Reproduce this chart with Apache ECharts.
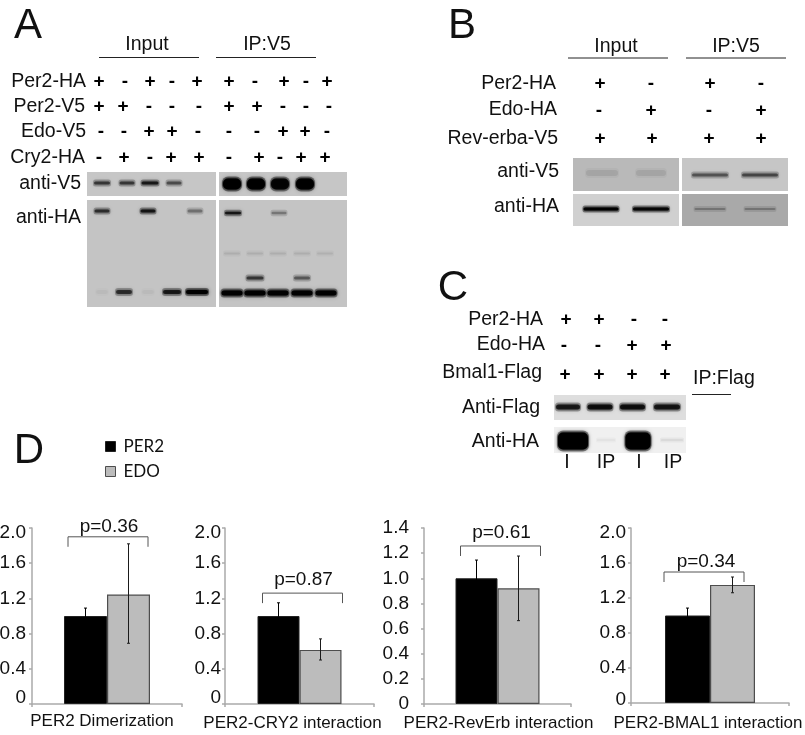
<!DOCTYPE html>
<html><head><meta charset="utf-8">
<style>html,body{margin:0;padding:0;background:#fff}#c{width:805px;height:735px}</style>
<script src="https://cdn.jsdelivr.net/npm/echarts@6/dist/echarts.min.js"></script>
</head><body><div id="c"></div>
<script>
// ---------- DATA: bar charts ----------
const chartNames = ['PER2 Dimerization','PER2-CRY2 interaction','PER2-RevErb interaction','PER2-BMAL1 interaction'];
const per2Means = [1.0, 1.0, 1.0, 1.0];
const edoMeans  = [1.245, 0.615, 0.92, 1.35];
const per2ErrLow  = [0.91, 0.85, 0.855, 0.915];
const per2ErrHigh = [1.09, 1.15, 1.145, 1.085];
const edoErrLow   = [0.69, 0.50, 0.663, 1.26];
const edoErrHigh  = [1.82, 0.74, 1.177, 1.44];
const pValues = ['p=0.36','p=0.87','p=0.61','p=0.34'];
const bracketLevels = [1.90, 1.26, 1.257, 1.497];
const axisMax = [2.0, 2.0, 1.4, 2.0];
const axisStep = [0.4, 0.4, 0.2, 0.4];
// ---------- DATA: treatment tables ----------
const aRowNames = ['Per2-HA','Per2-V5','Edo-V5','Cry2-HA'];
const aPer2HA = ['+','-','+','-','+','+','-','+','-','+'];
const aPer2V5 = ['+','+','-','-','-','+','+','-','-','-'];
const aEdoV5  = ['-','-','+','+','-','-','-','+','+','-'];
const aCry2HA = ['-','+','-','+','+','-','+','-','+','+'];
const bRowNames = ['Per2-HA','Edo-HA','Rev-erba-V5'];
const bPer2HA = ['+','-','+','-'];
const bEdoHA  = ['-','+','-','+'];
const bRevV5  = ['+','+','+','+'];
const cRowNames = ['Per2-HA','Edo-HA','Bmal1-Flag'];
const cPer2HA = ['+','+','-','-'];
const cEdoHA  = ['-','-','+','+'];
const cBmalF  = ['+','+','+','+'];
const cLanes  = ['I','IP','I','IP'];
// ---------- DATA: blot band darkness per lane ----------
const aV5Input = [0.55,0.55,0.72,0.45];
const aV5IP    = [1,0.97,0.9,0.97];
const aHAInTop = [0.6,0.75,0.3];
const aHAInLow = [0.03,0.6,0.03,0.72,1];
const aHAIPTop = [0.75,0.28];
const aHAIPFaint = [0.08,0.08,0.08,0.08,0.07];
const aHAIPMid = [0.55,0.4];
const aHAIPLow = [0.95,0.95,0.95,0.95,0.95];
const bV5Input = [0.08,0.08];
const bV5IP    = [0.42,0.48];
const bHAInput = [0.92,0.88];
const bHAIP    = [0.22,0.22];
const cFlag    = [0.72,0.8,0.8,0.75];
const cHA      = [1,0.06,1,0.1];

// ---------- LAYOUT ----------
const FONT='"Liberation Sans",Arial,sans-serif';
const barLayout=[
 {x:32,y:528,w:150,h:176,bw:43,brDx:1,txtDx:2,txtUp:10,lblDx:-5,marg:6,lm:9},
 {x:225,y:528,w:149,h:176,bw:42,brDx:3,txtDx:4,txtUp:13,lblDx:-7,marg:4,lm:11},
 {x:424,y:528,w:147,h:176,bw:42,brDx:3,txtDx:4,txtUp:13,lblDx:1,marg:15,lm:11},
 {x:631,y:528,w:158,h:175,bw:45,brDx:-6,txtDx:-4,txtUp:10,lblDx:-2,marg:5,lm:12}
];
const blotPanels=[
 {r:[87,172,129,24],bg:'#c6c6c6',blur:3,rows:[{y:183,h:3,d:aV5Input,cx:[102,127,150,174],w:[18,17,19,17]}]},
 {r:[219,172,128,24],bg:'#c6c6c6',blur:3,rows:[{y:184,h:11,d:aV5IP,cx:[232,256,280,305],w:[20,20,20,20]}]},
 {r:[87,200,129,107],bg:'#c4c4c4',blur:3,rows:[
   {y:211,h:3,d:aHAInTop,cx:[102,148,195],w:[17,17,17]},
   {y:292,h:4,d:aHAInLow,cx:[102,124,148,172,197],w:[14,18,14,20,24]}]},
 {r:[219,200,128,107],bg:'#c4c4c4',blur:3,rows:[
   {y:213,h:2.5,d:aHAIPTop,cx:[233,279],w:[18,17]},
   {y:253.5,h:2,d:aHAIPFaint,cx:[232,255,278,302,325],w:[18,18,18,18,18]},
   {y:278,h:3,d:aHAIPMid,cx:[255,302],w:[19,18]},
   {y:293,h:5,d:aHAIPLow,cx:[232,255,278,302,326],w:[23,23,23,23,23]}]},
 {r:[573,158,106,33],bg:'#b9b9b9',blur:6,rows:[{y:173,h:6,d:bV5Input,cx:[602,651],w:[34,32]}]},
 {r:[682,158,106,33],bg:'#c6c6c6',blur:3,rows:[{y:175,h:3,d:bV5IP,cx:[710,760],w:[38,38]}]},
 {r:[573,194,106,32],bg:'#d0d0d0',blur:2,rows:[{y:209,h:3,d:bHAInput,cx:[601,651],w:[37,38]}]},
 {r:[682,194,106,32],bg:'#a9a9a9',blur:2,rows:[{y:209,h:2,d:bHAIP,cx:[710,760],w:[33,33]}]},
 {r:[554,395,132,25],bg:'#dedede',blur:3,rows:[{y:407,h:5,d:cFlag,cx:[568,600,632.5,667],w:[26,27,27,28]}]},
 {r:[554,427,132,26],bg:'#f0f0f0',blur:3,rows:[{y:441,h:17,d:[cHA[0],cHA[2]],cx:[573,638],w:[32,27]},{y:440,h:1,d:[cHA[1],cHA[3]],cx:[606,672],w:[20,24]}]}
];
const T=[];
const txt=(s,x,y,size,align,extra)=>T.push({type:'text',z:50,silent:true,style:Object.assign({text:s,x:x,y:y,fill:'#111',font:size+'px '+FONT,align:align||'center',verticalAlign:'middle'},extra||{})});
const ln=(x1,y1,x2,y2,w,c)=>T.push({type:'line',z:50,silent:true,shape:{x1,y1,x2,y2},style:{stroke:c||'#222',lineWidth:w||1}});
const signs=(arr,xs,y)=>arr.forEach((s,i)=>txt(s,xs[i],y,19,'center',{font:'bold 19px '+FONT,fill:'#000'}));

// panel letters
txt('A',28,26,42);txt('B',462,26,42);txt('C',453,288,42);txt('D',29,451,42);
// panel A
txt('Input',147,45,19.5);ln(99,57.5,199,57.5);txt('IP:V5',267,45,19.5);ln(216,57.5,316,57.5);
[[82,86],[107,85],[132,86],[158,85]].forEach((p,i)=>txt(aRowNames[i],p[1],p[0],19.5,'right'));
signs(aPer2HA,[99,125,150,172,197,229,255,284,306,327],82);
signs(aPer2V5,[99,123,149,172,199,229,257,283,306,329],107);
signs(aEdoV5,[101,124,149,172,198,229,257,283,305,327],132);
signs(aCry2HA,[99,124,150,171,199,229,259,280,301,325],158);
txt('anti-V5',81,184,19.5,'right');txt('anti-HA',81,218,19.5,'right');
// panel B
txt('Input',616,47,19.5);ln(568,58,668,58);txt('IP:V5',736,47,19.5);ln(686,58,786,58);
[[84,556],[110,557],[139,558]].forEach((p,i)=>txt(bRowNames[i],p[1],p[0],19.5,'right'));
signs(bPer2HA,[600,651,710,761],84);signs(bEdoHA,[599,651,709,761],111);signs(bRevV5,[600,652,709,761],139);
txt('anti-V5',559,172,19.5,'right');txt('anti-HA',559,207,19.5,'right');
// panel C
[[320,543],[345,345+200],[373,542]].forEach((p,i)=>txt(cRowNames[i],i===0?543:p[1],p[0],19.5,'right'));
signs(cPer2HA,[566,599,634,665],320);signs(cEdoHA,[564,598,632,666],346);signs(cBmalF,[565,599,632,665],375);
txt('IP:Flag',693,379,19.5,'left');ln(692,394.5,731,394.5);
txt('Anti-Flag',540,408,19.5,'right');txt('Anti-HA',539,442,19.5,'right');
cLanes.forEach((s,i)=>txt(s,[567,606,639,673][i],463,19.5));

// ---------- series ----------
const grid=[],xAxis=[],yAxis=[],series=[];
blotPanels.forEach(p=>{
  const g=grid.length,[x,y,w,h]=p.r;
  grid.push({left:x,top:y,width:w,height:h,show:true,backgroundColor:p.bg,borderWidth:0,outerBoundsMode:'none'});
  xAxis.push({type:'value',gridIndex:g,min:x,max:x+w,show:false});
  yAxis.push({type:'value',gridIndex:g,min:y,max:y+h,inverse:true,show:false});
  const data=[];
  p.rows.forEach(r=>r.d.forEach((d,i)=>{if(d>0)data.push([r.cx[i],r.y,r.w[i],r.h,d]);}));
  series.push({type:'custom',xAxisIndex:g,yAxisIndex:g,clip:true,silent:true,animation:false,data,
    encode:{x:0,y:1},
    renderItem:(pa,api)=>{
      const c=api.coord([api.value(0),api.value(1)]),w=api.value(2),h=api.value(3),d=api.value(4);
      const halo='rgba(0,0,0,'+(d*0.4)+')',core='rgba(0,0,0,'+d+')';
      const hh=h+4,r=Math.min(h/2,5);
      return {type:'group',children:[
        {type:'rect',shape:{x:c[0]-w/2,y:c[1]-hh/2,width:w,height:hh,r:r+1},style:{fill:halo,shadowBlur:p.blur+1,shadowColor:halo}},
        {type:'rect',shape:{x:c[0]-w/2+1,y:c[1]-h/2,width:w-2,height:h,r:r},style:{fill:core,shadowBlur:p.blur,shadowColor:core}}]};
    }});
});
const AX='#aaaaaa';
chartNames.forEach((name,i)=>{
  const L=barLayout[i],g=grid.length;
  grid.push({left:L.x,top:L.y,width:L.w,height:L.h,containLabel:false,outerBoundsMode:'none'});
  xAxis.push({type:'category',gridIndex:g,data:[name],
    axisLine:{lineStyle:{color:AX,width:1.5}},axisTick:{show:true,length:3,lineStyle:{color:AX,width:1.5}},
    axisLabel:{interval:0,color:'#111',fontFamily:FONT,fontSize:17,margin:L.lm,
      padding:L.lblDx<0?[0,-2*L.lblDx,0,0]:[0,0,0,2*L.lblDx]}});
  yAxis.push({type:'value',gridIndex:g,min:0,max:axisMax[i],interval:axisStep[i],splitLine:{show:false},
    axisLine:{show:true,lineStyle:{color:AX,width:1.5}},axisTick:{show:true,length:3,lineStyle:{color:AX,width:1.5}},
    axisLabel:{color:'#111',fontFamily:FONT,fontSize:19,margin:L.marg,
      formatter:v=>v===0?'{lo|0}':(v===axisMax[i]&&i!==2?'{hi|'+v.toFixed(1)+'}':'{n|'+v.toFixed(1)+'}'),
      rich:{lo:{fontFamily:FONT,fontSize:19,color:'#111',padding:[0,0,i===2?0:(i===3?6:12),0]},
            hi:{fontFamily:FONT,fontSize:19,color:'#111',padding:[10,0,0,0]},
            n:{fontFamily:FONT,fontSize:19,color:'#111'}}}});
  const barBase={type:'bar',xAxisIndex:g,yAxisIndex:g,barWidth:L.bw,barGap:0,animation:false,silent:true};
  series.push(Object.assign({},barBase,{name:'PER2',data:[per2Means[i]],itemStyle:{color:'#000',borderColor:'#222',borderWidth:1}}));
  series.push(Object.assign({},barBase,{name:'EDO',data:[edoMeans[i]],itemStyle:{color:'#bcbcbc',borderColor:'#4d4d4d',borderWidth:1.2}}));
  // error bars
  const err=(lo,hi,off,col)=>series.push({type:'custom',xAxisIndex:g,yAxisIndex:g,z:5,silent:true,animation:false,
    data:[[0,lo[i],hi[i]]],encode:{x:0,y:[1,2]},
    renderItem:(pa,api)=>{
      const a=api.coord([0,api.value(1)]),b=api.coord([0,api.value(2)]),x=a[0]+off;
      const st={stroke:col,lineWidth:1,fill:'none'};
      return {type:'group',children:[
        {type:'line',shape:{x1:x,y1:a[1],x2:x,y2:b[1]},style:st},
        {type:'line',shape:{x1:x-1.5,y1:a[1],x2:x+1.5,y2:a[1]},style:st},
        {type:'line',shape:{x1:x-1.5,y1:b[1],x2:x+1.5,y2:b[1]},style:st}]};
    }});
  err(per2ErrLow,per2ErrHigh,-L.bw/2,'#000');
  err(edoErrLow,edoErrHigh,L.bw/2,'#1a1a1a');
  // significance bracket
  series.push({type:'custom',xAxisIndex:g,yAxisIndex:g,z:6,silent:true,animation:false,
    data:[[0,bracketLevels[i]]],encode:{x:0,y:1},
    renderItem:(pa,api)=>{
      const c=api.coord([0,api.value(1)]),x=c[0]+L.brDx,y=c[1];
      return {type:'group',children:[
        {type:'polyline',shape:{points:[[x-40,y+10],[x-40,y],[x+40,y],[x+40,y+10]]},style:{stroke:'#555',lineWidth:1,fill:'none'}},
        {type:'text',style:{text:pValues[i],x:c[0]+L.txtDx,y:y-L.txtUp,fill:'#111',font:'19px '+FONT,align:'center',verticalAlign:'middle'}}]};
    }});
});
const chart=echarts.init(document.getElementById('c'),null,{renderer:'canvas'});
chart.setOption({
  animation:false,backgroundColor:'#fff',
  legend:{data:[{name:'PER2',icon:'rect'},{name:'EDO',icon:'rect'}],orient:'vertical',left:100,top:433,itemWidth:10,itemHeight:10,itemGap:8,selectedMode:false,
    textStyle:{fontFamily:'Lato',fontSize:17,color:'#111',padding:[0,0,0,3]},itemStyle:{borderWidth:1}},
  grid,xAxis,yAxis,series,
  graphic:{elements:T}
});
</script></body></html>
